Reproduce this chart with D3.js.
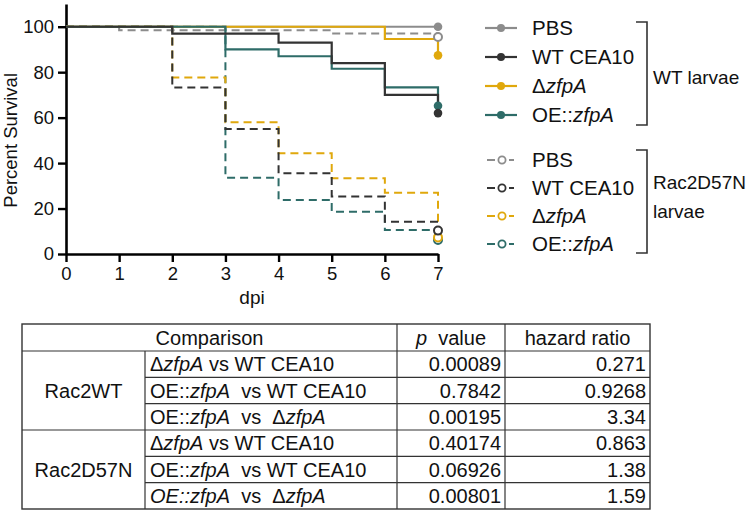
<!DOCTYPE html>
<html>
<head>
<meta charset="utf-8">
<script src="https://cdn.jsdelivr.net/npm/d3@7"></script>
<style>
  body { margin: 0; background: #fff; }
  svg text { font-family: "Liberation Sans", Arial, sans-serif; fill: #111; }
</style>
</head>
<body>
<div id="chart"></div>
<script>
// days post infection
var days = [0, 1, 2, 3, 4, 5, 6, 7];

// percent survival at each day (WT larvae, solid lines)
var wtPBS    = [100, 100, 100, 100, 100, 100, 100, 100];
var wtCEA10  = [100, 100, 97, 97, 93, 84, 70, 62];
var wtDelta  = [100, 100, 100, 100, 100, 100, 94.6, 87.4];
var wtOE     = [100, 100, 100, 90, 87, 81.5, 73.3, 65.2];

// percent survival at each day (Rac2D57N larvae, dashed lines)
var racPBS   = [100, 98.5, 98.5, 98.5, 98.5, 97, 97, 95.5];
var racCEA10 = [100, 100, 73.3, 55, 35.5, 25.3, 14.2, 10.3];
var racDelta = [100, 100, 77.7, 58, 44.3, 33.3, 27, 7.3];
var racOE    = [100, 100, 100, 33.6, 23.8, 18.6, 10.6, 6.2];

var strainLabels = ["PBS", "WT CEA10", "Δ<i>zfpA</i>", "OE::<i>zfpA</i>"];
var strainColors = ["#8c8c8c", "#333333", "#e0a80c", "#2e6c68"];
var yTicks = [0, 20, 40, 60, 80, 100];

// table
var tableGroups = ["Rac2WT", "Rac2D57N"];
var comparisons = [
  "Δ<i>zfpA</i> vs WT CEA10",
  "OE::<i>zfpA</i>  vs WT CEA10",
  "OE::<i>zfpA</i>  vs  Δ<i>zfpA</i>",
  "Δ<i>zfpA</i> vs WT CEA10",
  "OE::<i>zfpA</i>  vs WT CEA10",
  "<i>OE::zfpA</i>  vs  Δ<i>zfpA</i>"
];
var pValues = ["0.00089", "0.7842", "0.00195", "0.40174", "0.06926", "0.00801"];
var hazardRatios = ["0.271", "0.9268", "3.34", "0.863", "1.38", "1.59"];

var svgWidth = 750;
var svgHeight = 512;

var svg = d3.select("#chart")
  .append("svg")
  .attr("width", svgWidth)
  .attr("height", svgHeight);

// write markup like "Δ<i>zfpA</i>" as tspans
function richText(sel, str) {
  str.split(/(<i>.*?<\/i>)/).filter(function(s) { return s.length; }).forEach(function(part) {
    var it = part.indexOf("<i>") === 0;
    sel.append("tspan")
      .style("font-style", it ? "italic" : "normal")
      .text(it ? part.slice(3, -4) : part);
  });
}

// scales
var x = d3.scaleLinear().domain([0, 7]).range([66, 438]);
var y = d3.scaleLinear().domain([0, 110]).range([254, 4]);

// axes
var xAxis = svg.append("g")
  .attr("transform", "translate(0," + y(0) + ")")
  .call(d3.axisBottom(x).tickValues(days).tickFormat(d3.format("d")).tickSize(8).tickPadding(5).tickSizeOuter(0));
var yAxis = svg.append("g")
  .attr("transform", "translate(" + x(0) + ",0)")
  .call(d3.axisLeft(y).tickValues(yTicks).tickSize(8).tickPadding(4).tickSizeOuter(0));

[xAxis, yAxis].forEach(function(a) {
  a.select(".domain").attr("stroke", "#000").attr("stroke-width", 2.6);
  a.selectAll(".tick line").attr("stroke", "#000").attr("stroke-width", 2.4);
  a.selectAll(".tick text").style("font-size", "18.5px").attr("fill", "#111");
});

svg.append("text")
  .attr("x", x(3.5))
  .attr("y", 304)
  .attr("text-anchor", "middle")
  .style("font-size", "19px")
  .text("dpi");

svg.append("text")
  .attr("transform", "translate(17," + y(50) + ") rotate(-90)")
  .attr("text-anchor", "middle")
  .style("font-size", "18.5px")
  .text("Percent Survival");

// survival curves
var line = d3.line()
  .x(function(d, i) { return x(days[i]); })
  .y(function(d) { return y(d); })
  .curve(d3.curveStepAfter);

var dashed = [racPBS, racCEA10, racDelta, racOE];
var solid = [wtPBS, wtDelta, wtOE, wtCEA10];
var solidColors = [strainColors[0], strainColors[2], strainColors[3], strainColors[1]];

// draw order: dashed OE, delta, CEA10, PBS then solid
[3, 2, 1, 0].forEach(function(k) {
  svg.append("path")
    .datum(dashed[k])
    .attr("d", line)
    .attr("fill", "none")
    .attr("stroke", strainColors[k])
    .attr("stroke-width", 2)
    .attr("stroke-dasharray", "8,5");
});

solid.forEach(function(s, k) {
  svg.append("path")
    .datum(s)
    .attr("d", line)
    .attr("fill", "none")
    .attr("stroke", solidColors[k])
    .attr("stroke-width", 2.2);
});

// end markers at day 7
var last = days.length - 1;
solid.forEach(function(s, k) {
  svg.append("circle")
    .attr("cx", x(days[last]))
    .attr("cy", y(s[last]))
    .attr("r", 4.3)
    .attr("fill", solidColors[k]);
});
[3, 2, 1, 0].forEach(function(k) {
  svg.append("circle")
    .attr("cx", x(days[last]))
    .attr("cy", y(dashed[k][last]))
    .attr("r", 4)
    .attr("fill", "#fff")
    .attr("stroke", strainColors[k])
    .attr("stroke-width", 2);
});

// legend
var legendX = 485;
var rowsA = [28, 57, 86, 115];
var rowsB = [160, 188, 216, 244];

strainLabels.forEach(function(lbl, k) {
  var g = svg.append("g").attr("transform", "translate(" + legendX + "," + rowsA[k] + ")");
  g.append("line").attr("x1", 0).attr("x2", 32).attr("stroke", strainColors[k]).attr("stroke-width", 2.2);
  g.append("circle").attr("cx", 16).attr("r", 4).attr("fill", strainColors[k]);
  richText(g.append("text").attr("x", 47).attr("dy", "0.36em").style("font-size", "20.5px"), lbl);

  var h = svg.append("g").attr("transform", "translate(" + legendX + "," + rowsB[k] + ")");
  h.append("line").attr("x1", 2).attr("x2", 10).attr("stroke", strainColors[k]).attr("stroke-width", 2);
  h.append("line").attr("x1", 24).attr("x2", 29).attr("stroke", strainColors[k]).attr("stroke-width", 2);
  h.append("circle").attr("cx", 17).attr("r", 3.6).attr("fill", "#fff").attr("stroke", strainColors[k]).attr("stroke-width", 1.8);
  richText(h.append("text").attr("x", 47).attr("dy", "0.36em").style("font-size", "20.5px"), lbl);
});

function bracket(y0, y1) {
  svg.append("path")
    .attr("d", "M636," + y0 + "H647V" + y1 + "H636")
    .attr("fill", "none")
    .attr("stroke", "#333")
    .attr("stroke-width", 1.6);
}
bracket(22, 125);
bracket(150, 253);

svg.append("text").attr("x", 653).attr("y", 77).attr("dy", "0.36em").style("font-size", "19px").text("WT larvae");
svg.append("text").attr("x", 653).attr("y", 182).attr("dy", "0.36em").style("font-size", "19px").text("Rac2D57N");
svg.append("text").attr("x", 653).attr("y", 211).attr("dy", "0.36em").style("font-size", "19px").text("larvae");

// table
var colX = [22, 145, 397, 505, 650];
var headTop = 324, headBottom = 351, tableBottom = 509;
var row = d3.scaleLinear().domain([0, pValues.length]).range([headBottom, tableBottom]);
var tbl = svg.append("g");
var stroke = "#333";

tbl.append("rect")
  .attr("x", colX[0]).attr("y", headTop)
  .attr("width", colX[4] - colX[0]).attr("height", tableBottom - headTop)
  .attr("fill", "none").attr("stroke", stroke).attr("stroke-width", 1.4);

// header line, vertical lines
tbl.append("line").attr("x1", colX[0]).attr("x2", colX[4]).attr("y1", headBottom).attr("y2", headBottom)
  .attr("stroke", stroke).attr("stroke-width", 1.2);
tbl.append("line").attr("x1", colX[1]).attr("x2", colX[1]).attr("y1", headBottom).attr("y2", tableBottom)
  .attr("stroke", stroke).attr("stroke-width", 1.2);
[2, 3].forEach(function(c) {
  tbl.append("line").attr("x1", colX[c]).attr("x2", colX[c]).attr("y1", headTop).attr("y2", tableBottom)
    .attr("stroke", stroke).attr("stroke-width", 1.2);
});
// row lines
d3.range(1, pValues.length).forEach(function(i) {
  var full = i % 3 === 0;
  tbl.append("line")
    .attr("x1", full ? colX[0] : colX[1]).attr("x2", colX[4])
    .attr("y1", row(i)).attr("y2", row(i))
    .attr("stroke", stroke).attr("stroke-width", 1.2);
});

var fs = "20px";
tbl.append("text").attr("x", (colX[0] + colX[2]) / 2).attr("y", (headTop + headBottom) / 2)
  .attr("dy", "0.36em").attr("text-anchor", "middle").style("font-size", fs).text("Comparison");
var pv = tbl.append("text").attr("x", (colX[2] + colX[3]) / 2).attr("y", (headTop + headBottom) / 2)
  .attr("dy", "0.36em").attr("text-anchor", "middle").style("font-size", fs).style("white-space", "pre");
richText(pv, "<i>p</i>  value");
tbl.append("text").attr("x", (colX[3] + colX[4]) / 2).attr("y", (headTop + headBottom) / 2)
  .attr("dy", "0.36em").attr("text-anchor", "middle").style("font-size", fs).text("hazard ratio");

tableGroups.forEach(function(g, j) {
  tbl.append("text").attr("x", (colX[0] + colX[1]) / 2).attr("y", row(j * 3 + 1.5))
    .attr("dy", "0.36em").attr("text-anchor", "middle").style("font-size", fs).text(g);
});

comparisons.forEach(function(c, i) {
  var yc = (row(i) + row(i + 1)) / 2;
  var t = tbl.append("text").attr("x", colX[1] + 5).attr("y", yc).attr("dy", "0.36em")
    .style("font-size", fs).style("white-space", "pre");
  richText(t, c);
  tbl.append("text").attr("x", colX[3] - 4).attr("y", yc).attr("dy", "0.36em")
    .attr("text-anchor", "end").style("font-size", fs).text(pValues[i]);
  tbl.append("text").attr("x", colX[4] - 4).attr("y", yc).attr("dy", "0.36em")
    .attr("text-anchor", "end").style("font-size", fs).text(hazardRatios[i]);
});
</script>
</body>
</html>
